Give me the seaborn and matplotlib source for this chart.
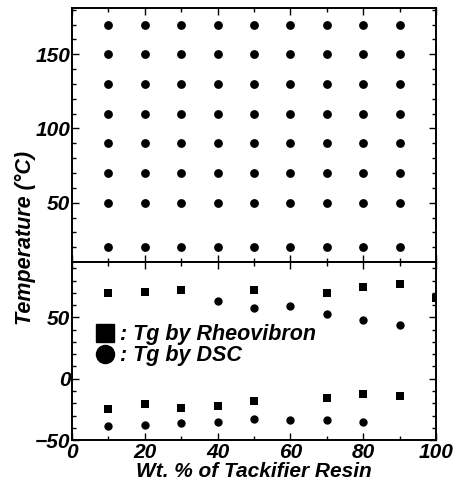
import pandas as pd
import matplotlib.pyplot as plt
import seaborn as sns
from matplotlib.lines import Line2D
from matplotlib.ticker import MultipleLocator

# upper panel: grid of measurement temperatures for each blend
grid_wt = [10, 20, 30, 40, 50, 60, 70, 80, 90]
grid_temp = [20, 50, 70, 90, 110, 130, 150, 170]

# lower panel: Tg values
rheo_wt = [10, 20, 30, 50, 70, 80, 90, 100, 10, 20, 30, 40, 50, 70, 80, 90]
rheo_tg = [70, 71, 72, 72.5, 70, 75, 77.5, 65.5, -24.5, -20.5, -23.5, -22, -18, -15.5, -12.5, -14]
dsc_wt = [40, 50, 60, 70, 80, 90, 10, 20, 30, 40, 50, 60, 70, 80]
dsc_tg = [63, 58, 59, 53, 48, 43.5, -38.5, -38, -36.5, -35, -33, -34, -34, -35]

sns.set_style("ticks")
plt.rcParams['font.family'] = ['Liberation Sans', 'DejaVu Sans']
plt.rcParams['xtick.direction'] = 'in'
plt.rcParams['ytick.direction'] = 'in'
# seaborn greys everything out, the original is plain black
for key in ['text.color', 'xtick.color', 'ytick.color', 'axes.edgecolor', 'axes.labelcolor']:
    plt.rcParams[key] = 'black'

grid = pd.DataFrame([(w, t) for t in grid_temp for w in grid_wt], columns=["wt", "temp"])
rheo = pd.DataFrame({"wt": rheo_wt, "tg": rheo_tg})
dsc = pd.DataFrame({"wt": dsc_wt, "tg": dsc_tg})

fig, (ax1, ax2) = plt.subplots(2, 1, figsize=(4.58, 4.82), dpi=100, sharex=True,
                               gridspec_kw={"height_ratios": [254, 178]})
fig.subplots_adjust(left=0.157, right=0.952, top=0.983, bottom=0.087, hspace=0)

sns.scatterplot(data=grid, x="wt", y="temp", ax=ax1, color="black", s=40,
                marker="o", edgecolor="black", linewidth=0)
sns.scatterplot(data=rheo, x="wt", y="tg", ax=ax2, color="black", s=36,
                marker="s", edgecolor="black", linewidth=0)
sns.scatterplot(data=dsc, x="wt", y="tg", ax=ax2, color="black", s=36,
                marker="o", edgecolor="black", linewidth=0)

tick_font = {"fontsize": 15, "fontweight": "bold", "fontstyle": "italic"}

ax1.set_xlim(0, 100)
ax1.set_ylim(10, 181)
ax1.yaxis.set_major_locator(MultipleLocator(50))
ax1.yaxis.set_minor_locator(MultipleLocator(10))
ax2.set_ylim(-50, 95)
ax2.yaxis.set_major_locator(MultipleLocator(50))
ax2.yaxis.set_minor_locator(MultipleLocator(10))
ax2.xaxis.set_major_locator(MultipleLocator(20))
ax2.xaxis.set_minor_locator(MultipleLocator(10))

for ax in (ax1, ax2):
    ax.set_xlabel("")
    ax.set_ylabel("")
    ax.tick_params(which="both", top=True, right=True, width=1, pad=1)
    ax.tick_params(which="major", length=5)
    ax.tick_params(which="minor", length=3)
    for side in ax.spines.values():
        side.set_linewidth(1.4)
    for lab in ax.get_yticklabels():
        lab.set(**tick_font)
ax1.tick_params(axis="x", which="both", labelbottom=False)
ax2.tick_params(axis="x", which="major", pad=2)
for lab in ax2.get_xticklabels():
    lab.set(**tick_font)

ax2.set_xlabel("Wt. % of Tackifier Resin", fontsize=15, fontweight="bold",
               fontstyle="italic", labelpad=0)
fig.text(0.055, 0.506, "Temperature (°C)", rotation=90, ha="center", va="center",
         fontsize=15.5, fontweight="bold", fontstyle="italic")

handles = [Line2D([], [], marker="s", color="black", linestyle="none", markersize=13),
           Line2D([], [], marker="o", color="black", linestyle="none", markersize=13)]
ax2.legend(handles, [": Tg by Rheovibron", ": Tg by DSC"], frameon=False,
           loc="upper left", bbox_to_anchor=(0.04, 0.70), handletextpad=0.25,
           labelspacing=0.0, handlelength=0.9, borderaxespad=0,
           prop={"size": 15.5, "weight": "bold", "style": "italic"})

plt.savefig("out.png", dpi=100)
plt.close()
